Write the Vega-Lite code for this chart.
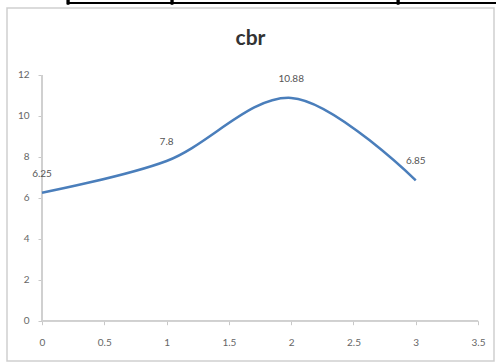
{
  "$schema": "https://vega.github.io/schema/vega-lite/v6.json",
  "width": 487,
  "height": 353,
  "autosize": {"type": "none"},
  "padding": {"left": 7, "top": 8, "right": 2, "bottom": 2},
  "background": "white",
  "config": {
    "view": {"stroke": "#cfcfcf", "strokeWidth": 1.5},
    "font": "Lato"
  },
  "title": {
    "text": "cbr",
    "font": "Lato",
    "fontSize": 21,
    "fontWeight": "bold",
    "color": "#333333",
    "anchor": "middle",
    "frame": "group",
    "orient": "top",
    "baseline": "alphabetic",
    "offset": -72
  },
  "data": {
    "values": [
      {"x": 0, "cbr": 6.25},
      {"x": 1, "cbr": 7.8},
      {"x": 2, "cbr": 10.88},
      {"x": 3, "cbr": 6.85}
    ]
  },
  "encoding": {
    "x": {
      "field": "x",
      "type": "quantitative",
      "scale": {"domain": [-0.281, 3.628], "nice": false, "zero": false},
      "axis": {
        "title": null,
        "values": [0, 0.5, 1, 1.5, 2, 2.5, 3, 3.5],
        "format": "~g",
        "offset": -40.3,
        "domain": false,
        "grid": false,
        "tickColor": "#c8c8c8",
        "tickSize": 4,
        "labelPadding": 13,
        "labelFontSize": 10,
        "labelColor": "#666666",
        "labelFont": "Lato"
      }
    },
    "y": {
      "field": "cbr",
      "type": "quantitative",
      "scale": {"domain": [-1.968, 15.27], "nice": false, "zero": false},
      "axis": {
        "title": null,
        "values": [0, 2, 4, 6, 8, 10, 12],
        "offset": -35,
        "domain": false,
        "grid": false,
        "tickColor": "#c8c8c8",
        "tickSize": 4,
        "labelPadding": 9,
        "labelFontSize": 10,
        "labelColor": "#666666",
        "labelFont": "Lato"
      }
    }
  },
  "layer": [
    {
      "mark": {"type": "rule", "color": "#d0d0d0", "strokeWidth": 1.5},
      "encoding": {
        "x": {"datum": 0},
        "x2": {"datum": 3.5},
        "y": {"datum": 0}
      }
    },
    {
      "mark": {"type": "rule", "color": "#d0d0d0", "strokeWidth": 1.5},
      "encoding": {
        "x": {"datum": 0},
        "y": {"datum": 0},
        "y2": {"datum": 12}
      }
    },
    {
      "mark": {"type": "rule", "color": "#000000", "strokeWidth": 2, "clip": false},
      "encoding": {
        "x": {"datum": 0.209},
        "x2": {"datum": 3.65},
        "y": {"datum": 15.52}
      }
    },
    {
      "mark": {"type": "rule", "color": "#000000", "strokeWidth": 2.5, "clip": false},
      "encoding": {
        "x": {"datum": 0.209},
        "y": {"datum": 15.45},
        "y2": {"datum": 15.9}
      }
    },
    {
      "mark": {"type": "rule", "color": "#000000", "strokeWidth": 2.5, "clip": false},
      "encoding": {
        "x": {"datum": 1.0436},
        "y": {"datum": 15.45},
        "y2": {"datum": 15.9}
      }
    },
    {
      "mark": {"type": "rule", "color": "#000000", "strokeWidth": 2.5, "clip": false},
      "encoding": {
        "x": {"datum": 2.858},
        "y": {"datum": 15.45},
        "y2": {"datum": 15.9}
      }
    },
    {
      "mark": {
        "type": "line",
        "interpolate": "catmull-rom",
        "color": "#4a7ebb",
        "strokeWidth": 2.5
      }
    },
    {
      "mark": {
        "type": "text",
        "dy": -19,
        "fontSize": 10,
        "color": "#555555",
        "font": "Lato"
      },
      "encoding": {
        "text": {"field": "cbr", "type": "quantitative"}
      }
    }
  ]
}
